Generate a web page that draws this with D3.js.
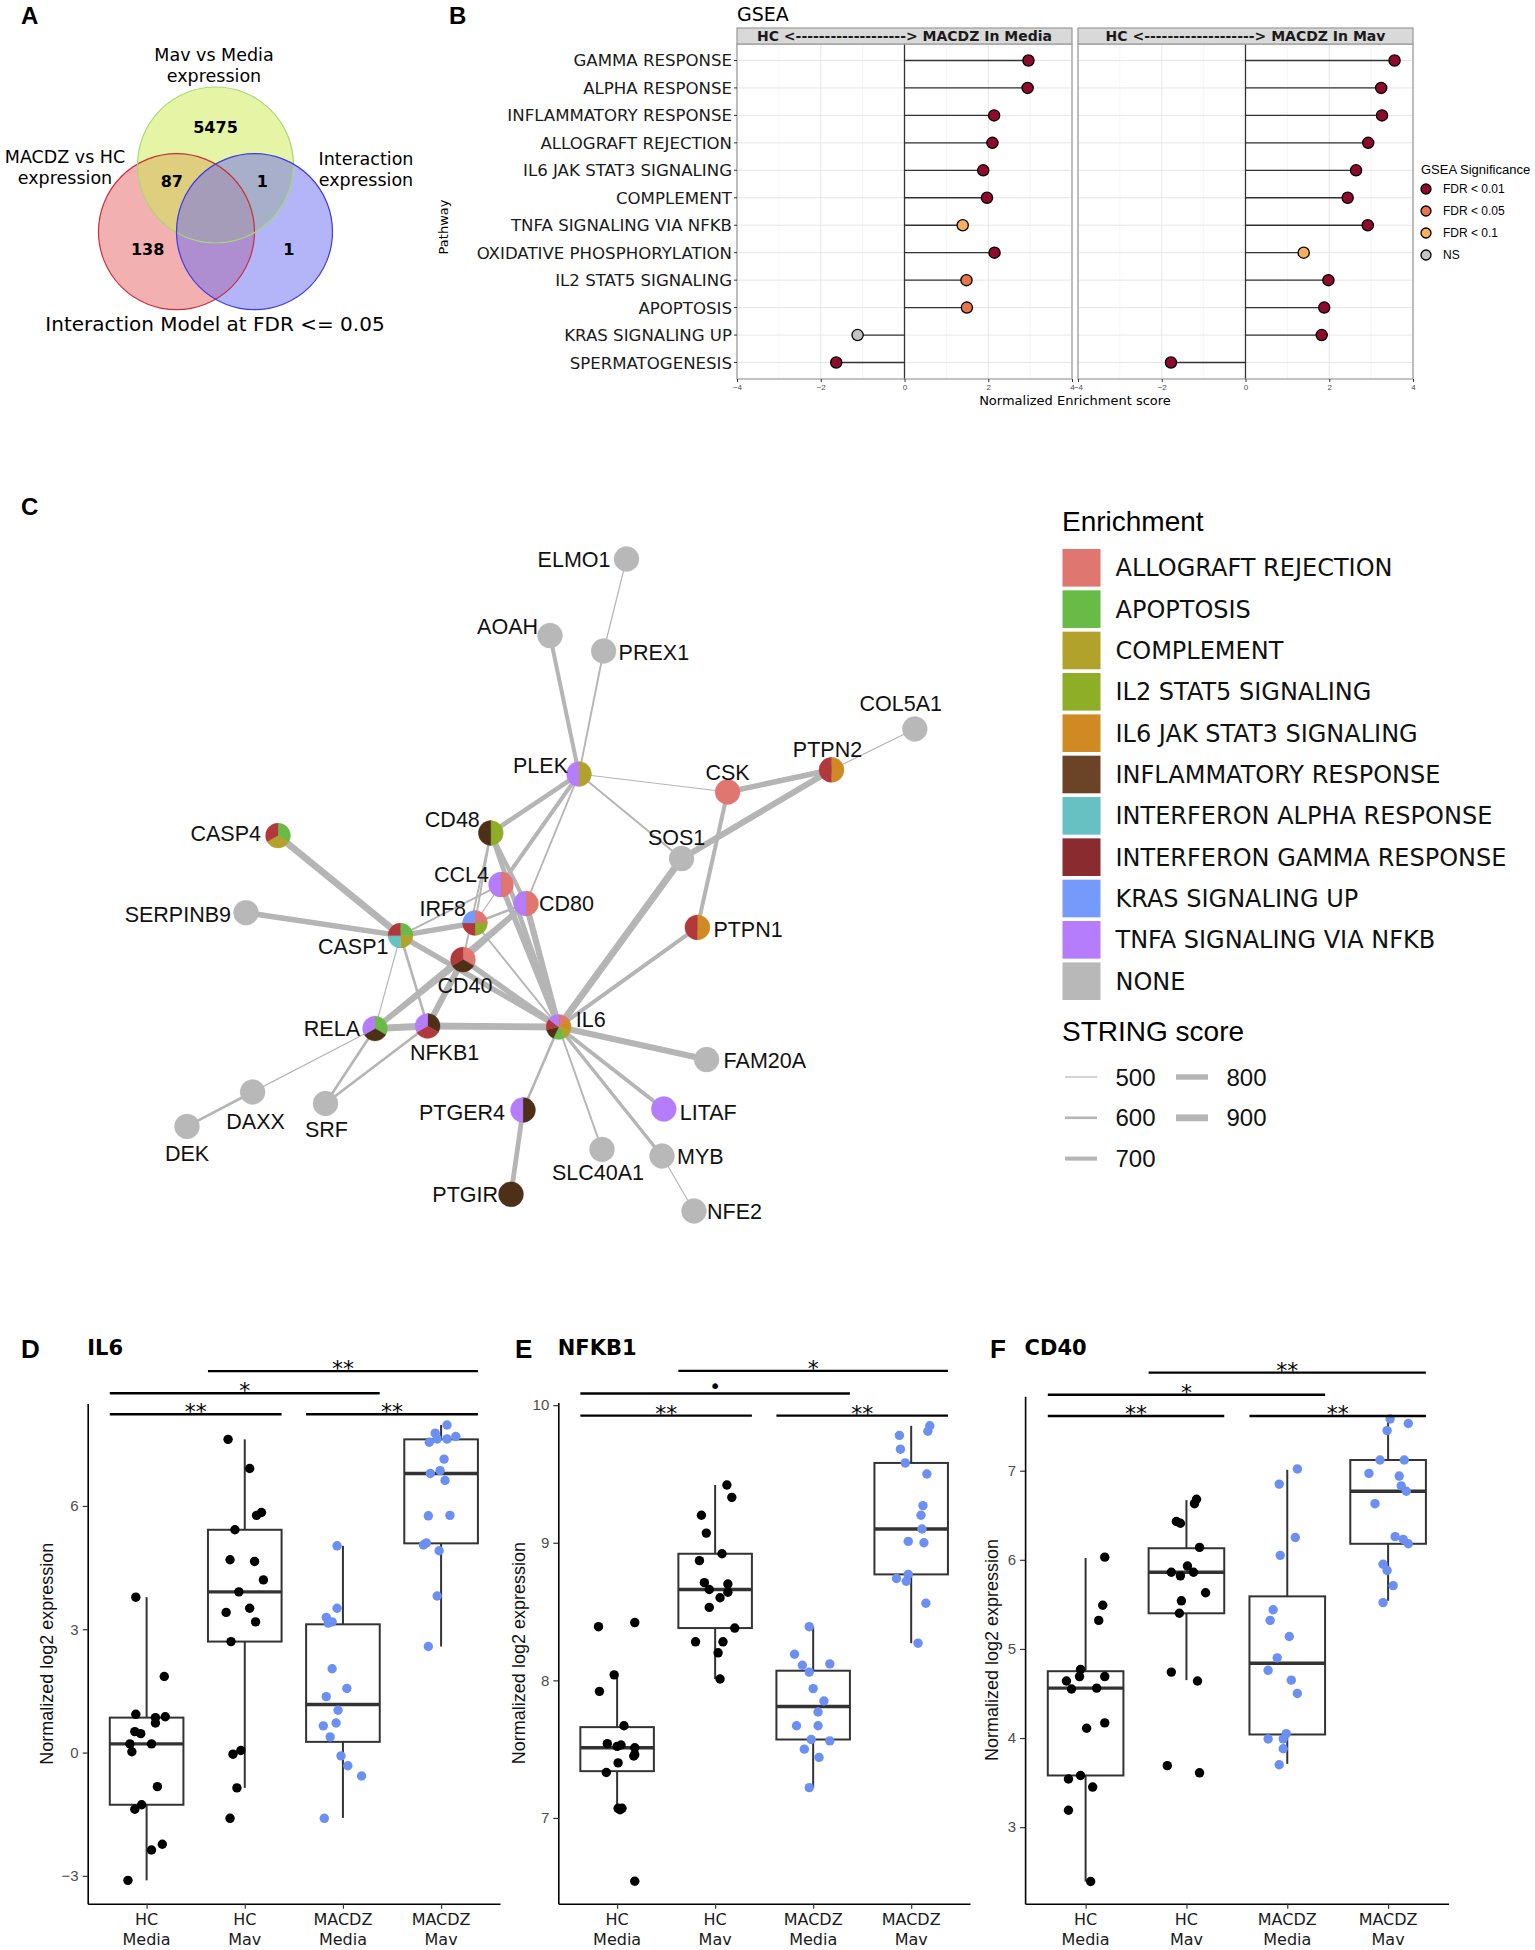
<!DOCTYPE html>
<html>
<head>
<meta charset="utf-8">
<script src="https://cdn.jsdelivr.net/npm/d3@7"></script>
<style>
  body { margin: 0; background: #fff; }
  svg { display: block; }
</style>
</head>
<body>
<svg id="fig" width="1535" height="1950"></svg>
<script>
const FONT_V = "'DejaVu Sans', Verdana, sans-serif";
const FONT_A = "'Liberation Sans', Arial, sans-serif";

// ---------------- data ----------------
// A: Venn
const vennSetNames = [['MACDZ vs HC', 'expression'], ['Mav vs Media', 'expression'], ['Interaction', 'expression']];
const vennCounts = ['138', '87', '5475', '1', '1'];

// B: GSEA
const pathways = ['GAMMA RESPONSE', 'ALPHA RESPONSE', 'INFLAMMATORY RESPONSE', 'ALLOGRAFT REJECTION',
  'IL6 JAK STAT3 SIGNALING', 'COMPLEMENT', 'TNFA SIGNALING VIA NFKB', 'OXIDATIVE PHOSPHORYLATION',
  'IL2 STAT5 SIGNALING', 'APOPTOSIS', 'KRAS SIGNALING UP', 'SPERMATOGENESIS'];
const nesMedia = [2.96, 2.94, 2.14, 2.10, 1.88, 1.97, 1.39, 2.15, 1.48, 1.49, -1.12, -1.63];
const fdrMedia = ['FDR < 0.01', 'FDR < 0.01', 'FDR < 0.01', 'FDR < 0.01', 'FDR < 0.01', 'FDR < 0.01',
  'FDR < 0.1', 'FDR < 0.01', 'FDR < 0.05', 'FDR < 0.05', 'NS', 'FDR < 0.01'];
const nesMav = [3.56, 3.24, 3.26, 2.93, 2.64, 2.44, 2.92, 1.39, 1.98, 1.88, 1.82, -1.78];
const fdrMav = ['FDR < 0.01', 'FDR < 0.01', 'FDR < 0.01', 'FDR < 0.01', 'FDR < 0.01', 'FDR < 0.01',
  'FDR < 0.01', 'FDR < 0.1', 'FDR < 0.01', 'FDR < 0.01', 'FDR < 0.01', 'FDR < 0.01'];
const fdrLevels = ['FDR < 0.01', 'FDR < 0.05', 'FDR < 0.1', 'NS'];
const nesTicks = [-4, -2, 0, 2, 4];

// C: network
const enrichCats = ['ALLOGRAFT REJECTION', 'APOPTOSIS', 'COMPLEMENT', 'IL2 STAT5 SIGNALING',
  'IL6 JAK STAT3 SIGNALING', 'INFLAMMATORY RESPONSE', 'INTERFERON ALPHA RESPONSE',
  'INTERFERON GAMMA RESPONSE', 'KRAS SIGNALING UP', 'TNFA SIGNALING VIA NFKB', 'NONE'];
const genes = [
  { id: 'ELMO1', sets: ['NONE'] },
  { id: 'AOAH', sets: ['NONE'] },
  { id: 'PREX1', sets: ['NONE'] },
  { id: 'PLEK', sets: ['COMPLEMENT', 'TNFA SIGNALING VIA NFKB'] },
  { id: 'CSK', sets: ['ALLOGRAFT REJECTION'] },
  { id: 'PTPN2', sets: ['IL6 JAK STAT3 SIGNALING', 'INTERFERON GAMMA RESPONSE'] },
  { id: 'COL5A1', sets: ['NONE'] },
  { id: 'CD48', sets: ['IL2 STAT5 SIGNALING', 'INFLAMMATORY RESPONSE'] },
  { id: 'CASP4', sets: ['APOPTOSIS', 'COMPLEMENT', 'INTERFERON GAMMA RESPONSE'] },
  { id: 'SOS1', sets: ['NONE'] },
  { id: 'CCL4', sets: ['ALLOGRAFT REJECTION', 'TNFA SIGNALING VIA NFKB'] },
  { id: 'CD80', sets: ['ALLOGRAFT REJECTION', 'TNFA SIGNALING VIA NFKB'] },
  { id: 'SERPINB9', sets: ['NONE'] },
  { id: 'IRF8', sets: ['ALLOGRAFT REJECTION', 'IL2 STAT5 SIGNALING', 'INTERFERON GAMMA RESPONSE', 'KRAS SIGNALING UP'] },
  { id: 'CASP1', sets: ['APOPTOSIS', 'COMPLEMENT', 'INTERFERON ALPHA RESPONSE', 'INTERFERON GAMMA RESPONSE'] },
  { id: 'CD40', sets: ['ALLOGRAFT REJECTION', 'INFLAMMATORY RESPONSE', 'INTERFERON GAMMA RESPONSE'] },
  { id: 'PTPN1', sets: ['IL6 JAK STAT3 SIGNALING', 'INTERFERON GAMMA RESPONSE'] },
  { id: 'RELA', sets: ['APOPTOSIS', 'INFLAMMATORY RESPONSE', 'TNFA SIGNALING VIA NFKB'] },
  { id: 'NFKB1', sets: ['INFLAMMATORY RESPONSE', 'INTERFERON GAMMA RESPONSE', 'TNFA SIGNALING VIA NFKB'] },
  { id: 'IL6', sets: ['ALLOGRAFT REJECTION', 'IL6 JAK STAT3 SIGNALING', 'COMPLEMENT', 'APOPTOSIS',
      'INFLAMMATORY RESPONSE', 'INTERFERON GAMMA RESPONSE', 'TNFA SIGNALING VIA NFKB'] },
  { id: 'FAM20A', sets: ['NONE'] },
  { id: 'DAXX', sets: ['NONE'] },
  { id: 'DEK', sets: ['NONE'] },
  { id: 'SRF', sets: ['NONE'] },
  { id: 'PTGER4', sets: ['INFLAMMATORY RESPONSE', 'TNFA SIGNALING VIA NFKB'] },
  { id: 'LITAF', sets: ['TNFA SIGNALING VIA NFKB'] },
  { id: 'SLC40A1', sets: ['NONE'] },
  { id: 'MYB', sets: ['NONE'] },
  { id: 'PTGIR', sets: ['INFLAMMATORY RESPONSE'] },
  { id: 'NFE2', sets: ['NONE'] }
];
const links = [
  ['ELMO1', 'PREX1', 500], ['AOAH', 'PLEK', 700], ['PREX1', 'PLEK', 550], ['PLEK', 'CSK', 500],
  ['PLEK', 'SOS1', 550], ['PLEK', 'CD48', 750], ['PLEK', 'CCL4', 700], ['PLEK', 'CD80', 550],
  ['CSK', 'PTPN2', 800], ['CSK', 'PTPN1', 700], ['PTPN2', 'COL5A1', 500], ['PTPN2', 'SOS1', 850],
  ['SOS1', 'IL6', 900], ['PTPN1', 'IL6', 700], ['CD48', 'CD80', 700], ['CD48', 'IL6', 750],
  ['CD48', 'IRF8', 550], ['CD48', 'CD40', 550], ['CASP4', 'CASP1', 900], ['SERPINB9', 'CASP1', 800],
  ['CASP1', 'IRF8', 800], ['CASP1', 'CCL4', 550], ['CASP1', 'IL6', 800], ['CASP1', 'RELA', 500],
  ['CASP1', 'NFKB1', 600], ['CCL4', 'IL6', 800], ['CCL4', 'IRF8', 500], ['CD80', 'IRF8', 600],
  ['CD80', 'CD40', 800], ['CD80', 'IL6', 850], ['CD80', 'RELA', 750], ['IRF8', 'IL6', 550],
  ['CD40', 'IL6', 800], ['CD40', 'RELA', 800], ['CD40', 'NFKB1', 850], ['RELA', 'NFKB1', 900],
  ['NFKB1', 'IL6', 900], ['RELA', 'DAXX', 500], ['DAXX', 'DEK', 600], ['RELA', 'SRF', 600],
  ['NFKB1', 'SRF', 600], ['IL6', 'FAM20A', 850], ['IL6', 'LITAF', 700], ['IL6', 'MYB', 650],
  ['IL6', 'SLC40A1', 550], ['IL6', 'PTGER4', 600], ['PTGER4', 'PTGIR', 750], ['MYB', 'NFE2', 500]
];
const stringScores = [500, 600, 700, 800, 900];

// D-F: expression boxplots
const groups = ['HC Media', 'HC Mav', 'MACDZ Media', 'MACDZ Mav'];
const sigPairs = [[0, 1], [2, 3], [0, 2], [1, 3]];

const il6Box = [[-3.11, -1.27, 0.21, 0.85, 3.78], [-0.86, 2.70, 3.91, 5.42, 7.62],
  [-1.59, 0.26, 1.17, 3.12, 5.03], [2.58, 5.09, 6.79, 7.62, 7.97]];
const il6Pts = [
  [[-0.11, 3.78], [0.18, 1.85], [-0.11, 0.93], [0.09, 0.85], [0.19, 0.87], [0.09, 0.72], [-0.12, 0.51],
   [-0.06, 0.46], [-0.17, 0.21], [0.05, 0.21], [-0.15, 0.02], [0.11, -0.83], [-0.05, -1.27], [-0.12, -1.38],
   [0.05, -2.37], [0.16, -2.23], [-0.19, -3.11]],
  [[-0.17, 7.62], [0.05, 6.91], [0.12, 5.77], [0.17, 5.84], [-0.10, 5.42], [-0.15, 4.69], [0.10, 4.65],
   [0.19, 4.20], [-0.06, 3.91], [-0.19, 3.41], [0.05, 3.51], [0.11, 3.18], [-0.14, 2.70], [-0.12, -0.04],
   [-0.04, 0.05], [-0.08, -0.86], [-0.15, -1.60]],
  [[-0.06, 5.03], [-0.06, 3.51], [-0.17, 3.29], [-0.15, 3.15], [-0.11, 3.18], [-0.11, 2.04], [0.04, 1.56],
   [-0.17, 1.36], [-0.05, 1.03], [-0.20, 0.65], [-0.07, 0.72], [-0.13, 0.38], [-0.02, -0.08], [0.05, -0.32],
   [0.19, -0.57], [-0.19, -1.60]],
  [[0.06, 7.97], [-0.06, 7.77], [-0.04, 7.63], [0.06, 7.63], [0.15, 7.69], [-0.12, 7.55], [0.03, 7.14],
   [-0.11, 6.79], [-0.01, 6.86], [0.04, 6.62], [-0.13, 5.76], [0.09, 5.77], [-0.18, 5.05], [-0.15, 5.10],
   [-0.02, 4.91], [-0.04, 3.81], [-0.13, 2.58]]
];
const il6Sig = ['**', '**', '*', '**'];
const il6SigLevel = [8.23, 8.23, 8.74, 9.28];
const il6Ticks = [-3, 0, 3, 6];

const nfkb1Box = [[7.07, 7.34, 7.51, 7.66, 8.04], [8.01, 8.38, 8.66, 8.92, 9.42],
  [7.22, 7.57, 7.81, 8.07, 8.39], [8.27, 8.77, 9.10, 9.58, 9.85]];
const nfkb1Pts = [
  [[-0.19, 8.39], [0.18, 8.42], [-0.03, 8.04], [-0.18, 7.92], [0.07, 7.67], [-0.10, 7.54], [0.00, 7.52],
   [0.04, 7.53], [0.18, 7.51], [0.17, 7.45], [0.18, 7.46], [0.01, 7.40], [-0.11, 7.33], [0.01, 7.07],
   [0.05, 7.07], [0.03, 7.06], [0.18, 6.54]],
  [[0.12, 9.42], [0.17, 9.33], [-0.14, 9.20], [-0.09, 9.07], [0.07, 8.92], [-0.16, 8.87], [-0.11, 8.71],
   [0.13, 8.70], [-0.06, 8.66], [0.13, 8.64], [0.05, 8.60], [-0.06, 8.53], [0.20, 8.38], [-0.20, 8.28],
   [0.08, 8.28], [0.03, 8.20], [0.05, 8.01]],
  [[-0.04, 8.39], [-0.19, 8.19], [-0.11, 8.11], [0.17, 8.12], [-0.04, 8.06], [0.00, 7.94], [0.11, 7.85],
   [0.05, 7.77], [-0.17, 7.67], [0.05, 7.67], [-0.02, 7.57], [0.17, 7.56], [-0.09, 7.50], [0.06, 7.44],
   [-0.04, 7.22]],
  [[0.19, 9.85], [0.17, 9.81], [-0.12, 9.78], [-0.11, 9.68], [-0.06, 9.58], [0.16, 9.50], [0.12, 9.27],
   [0.10, 9.20], [0.11, 9.10], [-0.03, 9.01], [0.13, 9.00], [-0.03, 8.77], [-0.15, 8.74], [-0.05, 8.72],
   [0.15, 8.56], [0.07, 8.27]]
];
const nfkb1Sig = ['**', '**', '•', '*'];
const nfkb1SigLevel = [9.924, 9.924, 10.085, 10.249];
const nfkb1Ticks = [7, 8, 9, 10];

const cd40Box = [[2.39, 3.58, 4.56, 4.75, 6.02], [4.65, 5.40, 5.86, 6.13, 6.67],
  [3.71, 4.04, 4.84, 5.59, 7.01], [5.54, 6.18, 6.77, 7.12, 7.58]];
const cd40Pts = [
  [[0.19, 6.03], [0.17, 5.49], [0.13, 5.32], [-0.05, 4.77], [-0.06, 4.69], [0.19, 4.69], [-0.19, 4.64],
   [-0.14, 4.55], [0.11, 4.56], [0.19, 4.17], [0.01, 4.11], [-0.17, 3.54], [-0.05, 3.58], [0.07, 3.45],
   [-0.17, 3.19], [0.05, 2.39]],
  [[0.10, 6.68], [0.08, 6.63], [-0.10, 6.43], [-0.06, 6.41], [0.13, 6.14], [-0.15, 5.86], [0.01, 5.93],
   [0.07, 5.86], [-0.06, 5.82], [0.19, 5.63], [-0.05, 5.54], [-0.07, 5.40], [-0.15, 4.74], [0.11, 4.64],
   [-0.19, 3.69], [0.13, 3.61]],
  [[0.10, 7.02], [-0.08, 6.85], [0.08, 6.25], [-0.07, 6.05], [-0.14, 5.44], [-0.17, 5.32], [0.02, 5.14],
   [-0.10, 4.90], [-0.19, 4.76], [0.04, 4.65], [0.10, 4.50], [-0.01, 4.05], [-0.04, 3.99], [-0.19, 3.99],
   [-0.04, 3.88], [-0.08, 3.70]],
  [[0.02, 7.58], [0.20, 7.53], [-0.01, 7.45], [-0.08, 7.12], [0.16, 7.12], [-0.19, 6.97], [0.11, 6.94],
   [0.13, 6.83], [0.18, 6.77], [-0.13, 6.63], [0.07, 6.26], [0.15, 6.23], [0.20, 6.18], [-0.05, 5.95],
   [-0.01, 5.88], [0.05, 5.71], [-0.05, 5.52]]
];
const cd40Sig = ['**', '**', '*', '**'];
const cd40SigLevel = [7.614, 7.614, 7.853, 8.101];
const cd40Ticks = [3, 4, 5, 6, 7];

// ---------------- styles / layout ----------------
const vennFill = ['#e56161', '#cbeb4b', '#6969f1'];
const vennStroke = ['#c8303c', '#a8d878', '#3c3ce0'];
const fdrColor = d3.scaleOrdinal().domain(fdrLevels).range(['#8e0b2c', '#e8744c', '#f6b05e', '#c4c4c4']);
const legendColor = d3.scaleOrdinal().domain(enrichCats).range(['#df766f', '#67bb46', '#b1a22b', '#8fae27',
  '#cf8a23', '#6b4428', '#67c0c1', '#8a2b2f', '#7699fc', '#b57cfb', '#b8b8b8']);
const nodeColor = d3.scaleOrdinal().domain(enrichCats).range(['#e0766f', '#67bb46', '#b1a22b', '#8fae27',
  '#d08a23', '#4e2f18', '#67c0c1', '#b2393b', '#7699fc', '#b57cfb', '#b8b8b8']);

const svg = d3.select('#fig');

function panelLetter(t, x, y, size) {
  svg.append('text').attr('x', x).attr('y', y).text(t)
    .attr('font-family', FONT_A).attr('font-weight', 'bold').attr('font-size', size).attr('fill', '#000');
}

// ================= A: Venn =================
(function drawVenn() {
  const g = svg.append('g');
  const vx = d3.scaleLinear().domain([0, 1]).range([215.5, 293.5]);
  const vy = d3.scaleLinear().domain([0, 1]).range([165, 243]);
  const r = vx(1) - vx(0);
  const centers = [[-0.5, 0.855], [0, 0], [0.5, 0.855]];
  const countAt = [[-0.87, 1.08], [-0.56, 0.205], [0, -0.49], [0.6, 0.205], [0.94, 1.08]];

  centers.forEach((c, i) => {
    g.append('circle').attr('cx', vx(c[0])).attr('cy', vy(c[1])).attr('r', r)
      .attr('fill', vennFill[i]).attr('fill-opacity', 0.5);
  });
  centers.forEach((c, i) => {
    g.append('circle').attr('cx', vx(c[0])).attr('cy', vy(c[1])).attr('r', r)
      .attr('fill', 'none').attr('stroke', vennStroke[i]).attr('stroke-width', 1.2);
  });
  vennCounts.forEach((t, i) => {
    g.append('text').attr('x', vx(countAt[i][0])).attr('y', vy(countAt[i][1]))
      .attr('dy', '0.36em').attr('text-anchor', 'middle').text(t)
      .attr('font-family', FONT_V).attr('font-weight', 'bold').attr('font-size', 16);
  });
  // two-line set names, stacked tightly as in the original
  const nameAt = [[65, 163], [214, 61], [366, 165]];
  vennSetNames.forEach((lines, i) => {
    lines.forEach((l, k) => {
      g.append('text').attr('x', nameAt[i][0]).attr('y', nameAt[i][1] + k * 20.5)
        .attr('text-anchor', 'middle').text(l)
        .attr('font-family', FONT_V).attr('font-size', 17.5);
    });
  });
  g.append('text').attr('x', 215).attr('y', 331).attr('text-anchor', 'middle')
    .text('Interaction Model at FDR <= 0.05').attr('font-family', FONT_V).attr('font-size', 20);
  panelLetter('A', 21, 24, 24);
})();

// ================= B: GSEA lollipops =================
(function drawGsea() {
  const g = svg.append('g');
  const top = 44, bottom = 379;
  const y = d3.scalePoint().domain(pathways).range([top, bottom]).padding(0.6);
  const facets = [
    { title: 'HC <-------------------> MACDZ In Media', nes: nesMedia, fdr: fdrMedia, x0: 737, x1: 1072 },
    { title: 'HC <-------------------> MACDZ In Mav', nes: nesMav, fdr: fdrMav, x0: 1078, x1: 1413 }
  ];

  facets.forEach((f, fi) => {
    const x = d3.scaleLinear().domain([-4, 4]).range([f.x0, f.x1]);
    const p = g.append('g');
    // minor grid
    [-3, -1, 1, 3].forEach(v => p.append('line').attr('x1', x(v)).attr('x2', x(v))
      .attr('y1', top).attr('y2', bottom).attr('stroke', '#f3f3f3').attr('stroke-width', 0.8));
    nesTicks.forEach(v => p.append('line').attr('x1', x(v)).attr('x2', x(v))
      .attr('y1', top).attr('y2', bottom).attr('stroke', '#e6e6e6').attr('stroke-width', 1));
    pathways.forEach(pw => p.append('line').attr('x1', f.x0).attr('x2', f.x1)
      .attr('y1', y(pw)).attr('y2', y(pw)).attr('stroke', '#e6e6e6').attr('stroke-width', 1));
    // zero line
    p.append('line').attr('x1', x(0)).attr('x2', x(0)).attr('y1', top).attr('y2', bottom)
      .attr('stroke', '#333').attr('stroke-width', 1.3);
    // stems
    pathways.forEach((pw, i) => p.append('line').attr('x1', x(0)).attr('x2', x(f.nes[i]))
      .attr('y1', y(pw)).attr('y2', y(pw)).attr('stroke', '#333').attr('stroke-width', 1.3));
    pathways.forEach((pw, i) => p.append('circle').attr('cx', x(f.nes[i])).attr('cy', y(pw)).attr('r', 5.6)
      .attr('fill', fdrColor(f.fdr[i])).attr('stroke', '#000').attr('stroke-width', 1.3));
    // border
    p.append('rect').attr('x', f.x0).attr('y', top).attr('width', f.x1 - f.x0).attr('height', bottom - top)
      .attr('fill', 'none').attr('stroke', '#999').attr('stroke-width', 1.2);
    // strip
    p.append('rect').attr('x', f.x0).attr('y', 28).attr('width', f.x1 - f.x0).attr('height', top - 28)
      .attr('fill', '#d9d9d9').attr('stroke', '#999').attr('stroke-width', 1.2);
    p.append('text').attr('x', (f.x0 + f.x1) / 2).attr('y', 36).attr('dy', '0.36em')
      .attr('text-anchor', 'middle').text(f.title)
      .attr('font-family', FONT_V).attr('font-weight', 'bold').attr('font-size', 14).attr('fill', '#1a1a1a');
    // x axis
    const ax = p.append('g').attr('transform', `translate(0,${bottom})`)
      .call(d3.axisBottom(x).tickValues(nesTicks).tickSize(3).tickPadding(2).tickFormat(d3.format('d')));
    ax.select('.domain').remove();
    ax.selectAll('line').attr('stroke', '#333');
    ax.selectAll('text').attr('font-family', FONT_A).attr('font-size', 8).attr('fill', '#4d4d4d');
    if (fi === 0) {
      pathways.forEach(pw => {
        p.append('line').attr('x1', f.x0 - 3).attr('x2', f.x0).attr('y1', y(pw)).attr('y2', y(pw))
          .attr('stroke', '#333');
        p.append('text').attr('x', f.x0 - 5).attr('y', y(pw)).attr('dy', '0.36em')
          .attr('text-anchor', 'end').text(pw)
          .attr('font-family', FONT_V).attr('font-size', 16.6).attr('fill', '#1a1a1a');
      });
    }
  });

  g.append('text').attr('x', 737).attr('y', 21).text('GSEA').attr('font-family', FONT_V).attr('font-size', 19);
  g.append('text').attr('x', 1075).attr('y', 405).attr('text-anchor', 'middle')
    .text('Normalized Enrichment score').attr('font-family', FONT_V).attr('font-size', 13);
  g.append('text').attr('transform', 'translate(448,227) rotate(-90)').attr('text-anchor', 'middle')
    .text('Pathway').attr('font-family', FONT_V).attr('font-size', 13);

  // legend
  const lg = g.append('g');
  lg.append('text').attr('x', 1421).attr('y', 174).text('GSEA Significance')
    .attr('font-family', FONT_A).attr('font-size', 13);
  const ly = d3.scalePoint().domain(fdrLevels).range([189, 255]);
  fdrLevels.forEach(l => {
    lg.append('circle').attr('cx', 1426).attr('cy', ly(l)).attr('r', 5)
      .attr('fill', fdrColor(l)).attr('stroke', '#000').attr('stroke-width', 1.3);
    lg.append('text').attr('x', 1443).attr('y', ly(l)).attr('dy', '0.36em').text(l)
      .attr('font-family', FONT_A).attr('font-size', 12);
  });
  panelLetter('B', 449, 24, 24);
})();

// ================= C: STRING network =================
(function drawNetwork() {
  const g = svg.append('g');
  // layout (panel-local units)
  const layout = {
    ELMO1: [626.5, 79], AOAH: [550, 155.6], PREX1: [603.6, 171], PLEK: [579, 294], CSK: [727.6, 312],
    PTPN2: [831.5, 289.8], COL5A1: [914.8, 249], CD48: [490.8, 353], CASP4: [278, 355.6], SOS1: [681.6, 378.6],
    CCL4: [501, 404.6], CD80: [526, 423.5], SERPINB9: [246, 432.7], IRF8: [475, 443], CASP1: [400.5, 455.6],
    CD40: [463, 479.6], PTPN1: [697.4, 447.4], RELA: [375, 548.5], NFKB1: [427.6, 546], IL6: [558.7, 547],
    FAM20A: [706.6, 579.6], DAXX: [252.6, 612], DEK: [187, 646.4], SRF: [325.5, 623.5], PTGER4: [523, 630],
    LITAF: [663.8, 629], SLC40A1: [602, 669.4], MYB: [662, 676], PTGIR: [511, 714.3], NFE2: [694, 731]
  };
  const labelAt = {
    ELMO1: [-16, 0, 'end'], AOAH: [-12, -9, 'end'], PREX1: [15, 1, 'start'], PLEK: [-11, -9, 'end'],
    CSK: [0, -20, 'middle'], PTPN2: [-4, -21, 'middle'], COL5A1: [-14, -26, 'middle'], CD48: [-11, -14, 'end'],
    CASP4: [-17, -2, 'end'], SOS1: [-5, -21, 'middle'], CCL4: [-12, -10, 'end'], CD80: [13, 0, 'start'],
    SERPINB9: [-15, 2, 'end'], IRF8: [-9, -15, 'end'], CASP1: [-12, 11, 'end'], CD40: [2, 26, 'middle'],
    PTPN1: [16, 2, 'start'], RELA: [-15, 0, 'end'], NFKB1: [17, 26, 'middle'], IL6: [17, -8, 'start'],
    FAM20A: [17, 1, 'start'], DAXX: [3, 29, 'middle'], DEK: [0, 27, 'middle'], SRF: [1, 26, 'middle'],
    PTGER4: [-18, 2, 'end'], LITAF: [16, 3, 'start'], SLC40A1: [-4, 23, 'middle'], MYB: [15, 0, 'start'],
    PTGIR: [-13, 0, 'end'], NFE2: [13, 0, 'start']
  };
  const nx = d3.scaleLinear().domain([0, 800]).range([0, 800]);
  const ny = d3.scaleLinear().domain([0, 800]).range([480, 1280]);
  const width = d3.scaleLinear().domain([500, 900]).range([1.2, 6.9]);
  const R = 12.5;

  links.forEach(([a, b, s]) => {
    g.append('line').attr('x1', nx(layout[a][0])).attr('y1', ny(layout[a][1]))
      .attr('x2', nx(layout[b][0])).attr('y2', ny(layout[b][1]))
      .attr('stroke', '#b5b5b5').attr('stroke-width', width(s)).attr('stroke-linecap', 'round');
  });

  const pie = d3.pie().sort(null).value(1);
  const arc = d3.arc().innerRadius(0).outerRadius(R);
  genes.forEach(n => {
    const ng = g.append('g').attr('transform', `translate(${nx(layout[n.id][0])},${ny(layout[n.id][1])})`);
    ng.selectAll('path').data(pie(n.sets)).join('path').attr('d', arc)
      .attr('fill', d => nodeColor(d.data)).attr('stroke', d => nodeColor(d.data)).attr('stroke-width', 0.3);
    const la = labelAt[n.id];
    ng.append('text').attr('x', la[0]).attr('y', la[1]).attr('dy', '0.36em').attr('text-anchor', la[2])
      .text(n.id).attr('font-family', FONT_A).attr('font-size', 21.5).attr('fill', '#111');
  });

  // legend
  const lg = g.append('g');
  lg.append('text').attr('x', 1062).attr('y', 531).text('Enrichment').attr('font-family', FONT_A).attr('font-size', 28);
  const ly = d3.scaleBand().domain(enrichCats).range([549, 549 + 41 * enrichCats.length]).paddingInner(0.09);
  enrichCats.forEach(c => {
    lg.append('rect').attr('x', 1062.5).attr('y', ly(c)).attr('width', 38).attr('height', ly.bandwidth())
      .attr('fill', legendColor(c));
    lg.append('text').attr('x', 1115.5).attr('y', ly(c) + ly.bandwidth() / 2).attr('dy', '0.36em').text(c)
      .attr('font-family', FONT_V).attr('font-size', 24).attr('fill', '#111');
  });
  lg.append('text').attr('x', 1062).attr('y', 1041).text('STRING score').attr('font-family', FONT_A).attr('font-size', 28);
  stringScores.forEach((s, i) => {
    const col = Math.floor(i / 3), row = i % 3;
    const x0 = 1065 + col * 111, yy = 1077 + row * 40.8;
    lg.append('line').attr('x1', x0).attr('x2', x0 + 32).attr('y1', yy).attr('y2', yy)
      .attr('stroke', '#b5b5b5').attr('stroke-width', width(s));
    lg.append('text').attr('x', x0 + 50.5).attr('y', yy).attr('dy', '0.36em').text(s)
      .attr('font-family', FONT_A).attr('font-size', 24).attr('fill', '#111');
  });
  panelLetter('C', 21, 515, 24);
})();

// ================= D-F: boxplots =================
function drawBoxPanel(cfg) {
  const g = svg.append('g');
  const x = d3.scalePoint().domain(groups).range([cfg.x0, cfg.x1]).padding(0.6);
  const step = x.step();
  const y = d3.scaleLinear().domain(cfg.domain).range([1903.8, cfg.top]);
  const hw = 0.375 * step;

  // boxes
  cfg.box.forEach((b, i) => {
    const cx = x(groups[i]);
    g.append('line').attr('x1', cx).attr('x2', cx).attr('y1', y(b[0])).attr('y2', y(b[1]))
      .attr('stroke', '#333').attr('stroke-width', 2);
    g.append('line').attr('x1', cx).attr('x2', cx).attr('y1', y(b[3])).attr('y2', y(b[4]))
      .attr('stroke', '#333').attr('stroke-width', 2);
    g.append('rect').attr('x', cx - hw).attr('y', y(b[3])).attr('width', 2 * hw).attr('height', y(b[1]) - y(b[3]))
      .attr('fill', '#fff').attr('stroke', '#333').attr('stroke-width', 2);
    g.append('line').attr('x1', cx - hw).attr('x2', cx + hw).attr('y1', y(b[2])).attr('y2', y(b[2]))
      .attr('stroke', '#333').attr('stroke-width', 3.4);
  });
  // jittered points
  cfg.pts.forEach((pts, i) => {
    pts.forEach(([j, v]) => {
      g.append('circle').attr('cx', x(groups[i]) + j * step).attr('cy', y(v)).attr('r', 4.7)
        .attr('fill', i < 2 ? '#000' : '#6b8ff2');
    });
  });
  // axes
  const ya = g.append('g').attr('transform', `translate(${cfg.x0},0)`)
    .call(d3.axisLeft(y).tickValues(cfg.ticks).tickSize(5).tickPadding(4).tickSizeOuter(0)
      .tickFormat(d3.format('~g')));
  ya.select('.domain').attr('stroke', '#000').attr('stroke-width', 1.6);
  ya.selectAll('.tick line').attr('stroke', '#333').attr('stroke-width', 1.2);
  ya.selectAll('.tick text').attr('font-family', FONT_A).attr('font-size', 15).attr('fill', '#4d4d4d');

  const xa = g.append('g').attr('transform', 'translate(0,1903.8)')
    .call(d3.axisBottom(x).tickSize(5).tickSizeOuter(0).tickFormat(''));
  xa.select('.domain').attr('stroke', '#000').attr('stroke-width', 1.6);
  xa.selectAll('.tick line').attr('stroke', '#333').attr('stroke-width', 1.2);
  groups.forEach(gr => {
    gr.split(' ').forEach((w, k) => {
      g.append('text').attr('x', x(gr)).attr('y', 1925 + k * 19.5).attr('text-anchor', 'middle').text(w)
        .attr('font-family', FONT_V).attr('font-size', 16).attr('fill', '#1a1a1a');
    });
  });
  g.append('text').attr('transform', `translate(${cfg.ytitleX},${(1903.8 + cfg.top) / 2}) rotate(-90)`)
    .attr('text-anchor', 'middle').text('Normalized log2 expression')
    .attr('font-family', FONT_A).attr('font-size', 18).attr('fill', '#111');

  // significance bars
  sigPairs.forEach(([a, b], k) => {
    const yy = y(cfg.sigLevel[k]);
    const xa0 = x(groups[a]) - hw, xb1 = x(groups[b]) + hw;
    g.append('line').attr('x1', xa0).attr('x2', xb1).attr('y1', yy).attr('y2', yy)
      .attr('stroke', '#000').attr('stroke-width', 2.4);
    const lab = cfg.sig[k];
    const dot = lab === '•';
    g.append('text').attr('x', (xa0 + xb1) / 2).attr('y', dot ? yy - 0.5 : yy + 5)
      .attr('text-anchor', 'middle').text(lab)
      .attr('font-family', FONT_V).attr('font-size', dot ? 20 : 22).attr('fill', '#000');
  });

  g.append('text').attr('x', cfg.x0 - 0.5).attr('y', 1355).text(cfg.gene)
    .attr('font-family', FONT_V).attr('font-weight', 'bold').attr('font-size', 21);
  panelLetter(cfg.letter, cfg.letterX, 1358, 26);
}

drawBoxPanel({ gene: 'IL6', letter: 'D', letterX: 21, x0: 87.7, x1: 500, top: 1403.6, domain: [-3.68, 8.49],
  ticks: il6Ticks, box: il6Box, pts: il6Pts, sig: il6Sig, sigLevel: il6SigLevel, ytitleX: 53 });
drawBoxPanel({ gene: 'NFKB1', letter: 'E', letterX: 515, x0: 558.3, x1: 970, top: 1402.4, domain: [6.376, 10.02],
  ticks: nfkb1Ticks, box: nfkb1Box, pts: nfkb1Pts, sig: nfkb1Sig, sigLevel: nfkb1SigLevel, ytitleX: 524.5 });
drawBoxPanel({ gene: 'CD40', letter: 'F', letterX: 990, x0: 1025.1, x1: 1448.6, top: 1396.3, domain: [2.14, 7.835],
  ticks: cd40Ticks, box: cd40Box, pts: cd40Pts, sig: cd40Sig, sigLevel: cd40SigLevel, ytitleX: 998 });
</script>
</body>
</html>
